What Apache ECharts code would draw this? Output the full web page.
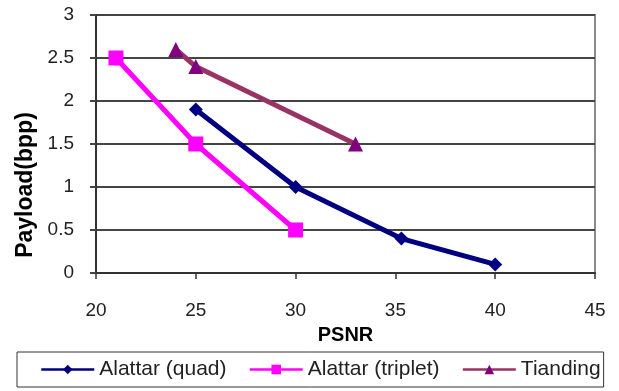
<!DOCTYPE html>
<html>
<head>
<meta charset="utf-8">
<script src="https://cdn.jsdelivr.net/npm/echarts@6/dist/echarts.min.js"></script>
<style>html,body{margin:0;padding:0;background:#fff}#c{width:619px;height:391px}</style>
</head>
<body>
<div id="c"></div>
<script>
const seriesNames = ["Alattar (quad)", "Alattar (triplet)", "Tianding"];
const quadX = [25, 30, 35.3, 40];
const quadY = [1.9, 1.0, 0.4, 0.1];
const tripletX = [21, 25, 30];
const tripletY = [2.5, 1.5, 0.5];
const tiandingX = [24, 25, 33];
const tiandingY = [2.6, 2.4, 1.5];
const xAxisName = "PSNR";
const yAxisName = "Payload(bpp)";

const pairs = (xs, ys) => xs.map((x, i) => [x, ys[i]]);
const font = "'Liberation Sans', Arial, sans-serif";

const chart = echarts.init(document.getElementById('c'), null, {renderer: 'canvas'});
chart.setOption({
  backgroundColor: '#ffffff',
  animation: false,
  grid: {left: 96, right: 24, top: 15, bottom: 118, show: true, borderColor: '#8a8a8a', borderWidth: 2, backgroundColor: '#ffffff'},
  xAxis: {
    type: 'value', min: 20, max: 45, interval: 5,
    name: xAxisName, nameLocation: 'middle', nameGap: 52,
    nameTextStyle: {fontFamily: font, fontSize: 20, fontWeight: 'bold', color: '#000'},
    axisLine: {show: true, onZero: false, lineStyle: {color: '#333', width: 2}},
    axisTick: {show: true, inside: false, length: 6, lineStyle: {color: '#333', width: 1.5}},
    axisLabel: {fontFamily: font, fontSize: 19, color: '#222', margin: 28},
    splitLine: {show: false}
  },
  yAxis: {
    type: 'value', min: 0, max: 3, interval: 0.5,
    name: yAxisName, nameLocation: 'middle', nameGap: 58,
    nameTextStyle: {fontFamily: font, fontSize: 23, fontWeight: 'bold', color: '#000', padding: [0, 82, 0, 0]},
    axisLine: {show: true, lineStyle: {color: '#333', width: 2}},
    axisTick: {show: true, inside: false, length: 6, lineStyle: {color: '#444', width: 2}},
    axisLabel: {fontFamily: font, fontSize: 19, color: '#222', margin: 22},
    splitLine: {show: true, lineStyle: {color: '#444', width: 2}}
  },
  legend: {
    left: 17, top: 352,
    padding: [7, 3, 7, 23],
    itemGap: 22, itemWidth: 53, itemHeight: 12,
    borderColor: '#333', borderWidth: 1,
    lineStyle: {width: 2.5},
    textStyle: {fontFamily: font, fontSize: 21, color: '#222'},
    data: seriesNames
  },
  series: [
    {
      name: seriesNames[0], type: 'line', data: pairs(quadX, quadY),
      symbol: 'diamond', symbolSize: 14,
      lineStyle: {color: '#000080', width: 5}, itemStyle: {color: '#000080'}
    },
    {
      name: seriesNames[1], type: 'line', data: pairs(tripletX, tripletY),
      symbol: 'rect', symbolSize: 15,
      lineStyle: {color: '#ff00ff', width: 5}, itemStyle: {color: '#ff00ff'}
    },
    {
      name: seriesNames[2], type: 'line', data: pairs(tiandingX, tiandingY),
      symbol: 'triangle', symbolSize: 15,
      lineStyle: {color: '#993366', width: 5}, itemStyle: {color: '#800080'}
    }
  ]
});
</script>
</body>
</html>
